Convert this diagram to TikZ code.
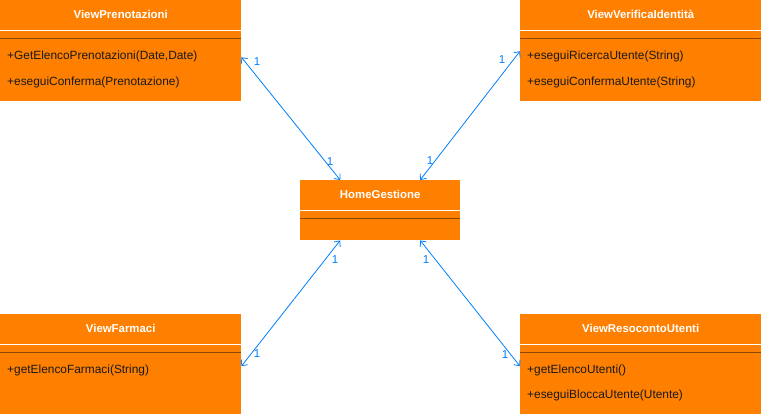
\documentclass[tikz,border=0pt]{standalone}
\usepackage{fontspec}
\setmainfont{Liberation Sans}
\usepackage{xcolor}
\usepackage{tikz}
\usetikzlibrary{positioning,calc,arrows.meta}
\definecolor{ClsOrange}{RGB}{255,128,0}
\definecolor{ClsBrown}{RGB}{140,70,0}
\definecolor{AssocBlue}{RGB}{0,127,255}

\begin{document}
\begin{tikzpicture}[x=1pt, y=-1pt]
					\tikzset{
						cls/.style={rectangle, draw=none, fill=ClsOrange, anchor=north west,
							inner sep=0pt},
						ttl/.style={font=\fontsize{11.4}{13}\selectfont\bfseries, text=white, inner sep=0pt},
						mth/.style={font=\fontsize{11.9}{13}\selectfont, text=black!90, anchor=west, inner sep=0pt},
						wsep/.style={draw=white, line width=0.8pt},
						dsep/.style={draw=ClsBrown, line width=0.8pt},
						assoc/.style={draw=AssocBlue, line width=0.8pt,
							{Straight Barb[length=4.5pt,width=8pt]}-{Straight Barb[length=4.5pt,width=8pt]}},
						mult/.style={font=\fontsize{11.5}{13}\selectfont, text=AssocBlue, inner sep=0pt}
					}
					\useasboundingbox (0,0) rectangle (761,416);
					
					% classes
					\node[cls, minimum width=241, minimum height=101] (prenot) at (0,0) {};
					\node[cls, minimum width=241, minimum height=101] (verif) at (520,0) {};
					\node[cls, minimum width=160, minimum height=60] (home) at (300,180) {};
					\node[cls, minimum width=241, minimum height=100] (farm) at (0,314) {};
					\node[cls, minimum width=241, minimum height=100] (resoc) at (520,314) {};
					
					\foreach \c in {prenot,verif,home,farm,resoc}{
						\draw[wsep] ([yshift=-30.5]\c.north west) -- ([yshift=-30.5]\c.north east);
						\draw[dsep] ([yshift=-38]\c.north west) -- ([yshift=-38]\c.north east);
					}
					
					\node[ttl] (prenotT) at ([yshift=-14]prenot.north) {ViewPrenotazioni};
					\node[ttl] (verifT) at ([yshift=-14]verif.north) {ViewVerificaIdentità};
					\node[ttl] (homeT) at ([yshift=-14]home.north) {HomeGestione};
					\node[ttl] (farmT) at ([yshift=-14]farm.north) {ViewFarmaci};
					\node[ttl] (resocT) at ([yshift=-14]resoc.north) {ViewResocontoUtenti};
					
					\node[mth] (prenotM1) at (7,56) {+GetElencoPrenotazioni(Date,Date)};
					\node[mth] (prenotM2) at (7,82) {+eseguiConferma(Prenotazione)};
					\node[mth] (verifM1) at (527,56) {+eseguiRicercaUtente(String)};
					\node[mth] (verifM2) at (527,82) {+eseguiConfermaUtente(String)};
					\node[mth] (farmM1) at (7,370) {+getElencoFarmaci(String)};
					\node[mth] (resocM1) at (527,370) {+getElencoUtenti()};
					\node[mth] (resocM2) at (527,395) {+eseguiBloccaUtente(Utente)};
					
					% associations
					\draw[assoc] ([yshift=-6.5]prenot.east) -- ([xshift=-40]home.north);
					\draw[assoc] ([yshift=-0.5]verif.west) -- ([xshift=40]home.north);
					\draw[assoc] ([yshift=-2]farm.west -| farm.east) -- ([xshift=-40]home.south);
					\draw[assoc] ([xshift=40]home.south) -- ([yshift=-2]resoc.west);
					
					\node[mult] (m1) at (257,62) {1};
					\node[mult] (m2) at (330,162) {1};
					\node[mult] (m3) at (502,60) {1};
					\node[mult] (m4) at (430,161) {1};
					\node[mult] (m5) at (335,260) {1};
					\node[mult] (m6) at (257,354) {1};
					\node[mult] (m7) at (426,260) {1};
					\node[mult] (m8) at (505,355) {1};
				\end{tikzpicture}
\end{document}
